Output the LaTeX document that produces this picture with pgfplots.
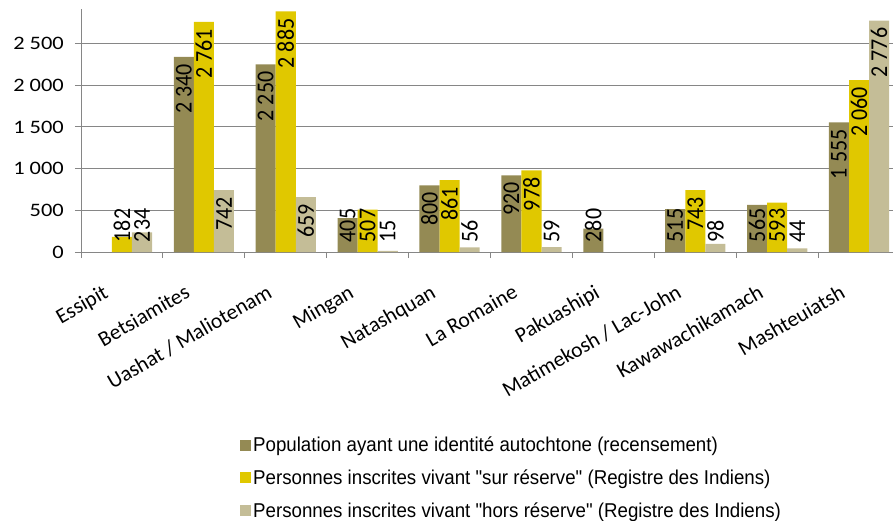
\documentclass[border=0pt]{standalone}
\usepackage{fontspec}
\usepackage{pgfplots}
\usepackage{pgfplotstable}
\pgfplotsset{compat=1.18}
\setmainfont{Carlito}
\newfontfamily\legfont[FakeStretch=0.935]{Liberation Sans}
\newfontfamily\tickfont[FakeStretch=1.18]{Carlito}
\definecolor{popc}{HTML}{948A54}
\definecolor{surc}{HTML}{E0C800}
\definecolor{horsc}{HTML}{C4BD97}
\definecolor{gridc}{HTML}{868686}

% x: category index; *o: vertical offset (bp) of label top relative to bar top
\pgfplotstableread{
x pop popo sur suro hors horso
0 nan 0 182 28.3 234 24.0
1 2340 -7 2761 -7 742 -7
2 2250 -7 2885 -7 659 -7
3 405 9.7 507 1.2 15 31.0
4 800 -7 861 -7 56 27.6
5 920 -7 978 -7 59 27.4
6 280 20.1 nan 0 nan 0
7 515 0.5 743 -7 98 24.1
8 565 -3.6 593 -6.0 44 28.6
9 1555 -7 2060 -7 2776 -7
}\data

\begin{document}
\begin{tikzpicture}
\useasboundingbox (-81bp,-269bp) rectangle (812bp,252bp);
\begin{axis}[
  at={(0,0)}, anchor=south west,
  scale only axis, width=812bp, height=243bp,
  xmin=-0.5, xmax=9.414, ymin=0, ymax=2914,
  axis x line*=bottom, axis y line*=left,
  axis line style={draw=gridc, line width=0.9bp},
  ytick={0,500,1000,1500,2000,2500},
  ymajorgrids, major grid style={draw=gridc, line width=0.9bp},
  xtick={0,...,9},
  xticklabels={Essipit, Betsiamites, Uashat / Maliotenam, Mingan, Natashquan, La Romaine, Pakuashipi, Matimekosh / Lac-John, Kawawachikamach, Mashteuiatsh},
  minor xtick={-0.5,0.5,...,8.5},
  tick align=outside,
  major tick length=6bp, minor tick length=6bp,
  major x tick style={draw=none},
  minor x tick style={draw=gridc, line width=0.9bp},
  major y tick style={draw=gridc, line width=0.9bp},
  xticklabel style={rotate=30, anchor=north east, inner sep=0pt, font=\fontsize{21.5bp}{24bp}\selectfont, yshift=-12bp, xshift=-30bp},
  yticklabel style={inner sep=0pt, xshift=-11bp, font=\fontsize{19bp}{22bp}\tickfont},
  /pgf/number format/.cd, fixed, precision=0, 1000 sep={\ }, assume math mode=true,
  /pgfplots/.cd,
  legend style={at={(0.1958,-0.752)}, anchor=north west, draw=none, fill=none,
    font=\fontsize{20bp}{22bp}\legfont, row sep=12.5bp, inner sep=0pt,
    /tikz/every even column/.append style={column sep=0bp}},
  legend cell align=left,
  legend image code/.code={\fill[#1] (0bp,-5.5bp) rectangle (11bp,5.5bp);},
  every node near coord/.style={yshift=\off bp, xscale=1.1, rotate=90, anchor=east, inner sep=0pt, text=black, font=\fontsize{22bp}{24bp}\selectfont},
  clip=false,
]
\addplot[ybar, bar width=0.245, bar shift=0pt, fill=popc, draw=none,
  nodes near coords, visualization depends on=\thisrow{popo}\as\off]
  table[x expr=\thisrow{x}-0.245, y=pop] {\data};
\addplot[ybar, bar width=0.245, bar shift=0pt, fill=surc, draw=none,
  nodes near coords, visualization depends on=\thisrow{suro}\as\off]
  table[x=x, y=sur] {\data};
\addplot[ybar, bar width=0.245, bar shift=0pt, fill=horsc, draw=none,
  nodes near coords, visualization depends on=\thisrow{horso}\as\off]
  table[x expr=\thisrow{x}+0.245, y=hors] {\data};
\legend{Population ayant une identité autochtone (recensement), Personnes inscrites vivant "sur réserve" (Registre des Indiens), Personnes inscrites vivant "hors réserve" (Registre des Indiens)}
\end{axis}
\end{tikzpicture}
\end{document}
